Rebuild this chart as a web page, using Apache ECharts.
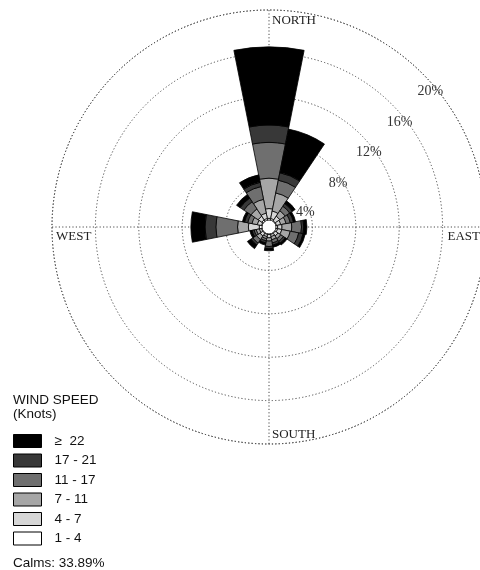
<!DOCTYPE html>
<html>
<head>
<meta charset="utf-8">
<title>Wind Rose</title>
<script src="https://cdn.jsdelivr.net/npm/echarts@6/dist/echarts.min.js"></script>
<style>
  html, body { margin: 0; padding: 0; background: #ffffff; }
  #chart { width: 480px; height: 570px; }
</style>
</head>
<body>
<div id="chart"></div>
<script>
// Sixteen compass directions, clockwise from north
const directions = ['N', 'NNE', 'NE', 'ENE', 'E', 'ESE', 'SE', 'SSE',
                    'S', 'SSW', 'SW', 'WSW', 'W', 'WNW', 'NW', 'NNW'];

// Frequency (%) per direction for each wind-speed class (knots)
const speed1to4   = [0.8, 0.8, 0.7, 0.7, 0.8, 0.8, 0.7, 0.7, 0.7, 0.7, 0.7, 0.7, 0.9, 0.7, 0.8, 0.8];
const speed4to7   = [0.9, 0.7, 0.5, 0.4, 0.4, 0.4, 0.3, 0.2, 0.3, 0.2, 0.3, 0.2, 1.0, 0.4, 0.4, 0.5];
const speed7to11  = [2.8, 1.7, 0.6, 0.5, 0.9, 0.8, 0.3, 0.3, 0.3, 0.2, 0.4, 0.3, 1.0, 0.5, 0.8, 1.3];
const speed11to17 = [3.3, 1.2, 0.5, 0.4, 0.9, 0.8, 0.3, 0.3, 0.5, 0.2, 0.4, 0.2, 2.0, 0.4, 0.8, 1.2];
const speed17to21 = [1.6, 0.7, 0.3, 0.3, 0.2, 0.4, 0.2, 0.2, 0.2, 0.2, 0.2, 0.2, 1.0, 0.3, 0.4, 0.4];
const speed22up   = [7.2, 4.1, 0.3, 0.2, 0.3, 0.2, 0.2, 0.2, 0.2, 0.2, 0.4, 0.2, 1.3, 0.2, 0.4, 0.7];

// Ring values and compass labels
const ringTicks = [4, 8, 12, 16, 20];
const ringLabels = ['4%', '8%', '12%', '16%', '20%'];
const compassLabels = ['NORTH', 'EAST', 'SOUTH', 'WEST'];
const calmsText = 'Calms: 33.89%';

const classes = [
  { name: '1 - 4',   data: speed1to4,   color: '#ffffff' },
  { name: '4 - 7',   data: speed4to7,   color: '#d6d6d6' },
  { name: '7 - 11',  data: speed7to11,  color: '#a6a6a6' },
  { name: '11 - 17', data: speed11to17, color: '#6f6f6f' },
  { name: '17 - 21', data: speed17to21, color: '#383838' },
  { name: '\u2265  22', data: speed22up, color: '#000000' }
];

const cx = 269, cy = 227, R = 217, rMax = 20;
const serif = '"Liberation Serif", "DejaVu Serif", serif';
const sans = '"Liberation Sans", Arial, sans-serif';
const dotStyle = { color: '#4a4a4a', width: 1, type: [1.2, 2.2] };

const chart = echarts.init(document.getElementById('chart'), null, { renderer: 'canvas' });

// ring labels sit beside the north-east radial, just inside each ring
const ringText = ringTicks.map((v, i) => {
  const along = v / rMax * R - 7;
  const perp = i === 0 ? 15 : 18;
  const c = Math.SQRT1_2;
  return {
    type: 'text',
    x: cx + (along + perp) * c,
    y: cy - (along - perp) * c,
    style: {
      text: ringLabels[i], fill: '#333', font: '14px ' + serif,
      align: 'center', verticalAlign: 'middle'
    },
    z: 10
  };
});

const compassText = [
  { text: compassLabels[0], x: cx + 3, y: cy - R + 11, align: 'left' },
  { text: compassLabels[1], x: cx + R - 6, y: cy + 10, align: 'right' },
  { text: compassLabels[2], x: cx + 3, y: cy + R - 9, align: 'left' },
  { text: compassLabels[3], x: cx - R + 4, y: cy + 10, align: 'left' }
].map(t => ({
  type: 'text', x: t.x, y: t.y, z: 10,
  style: { text: t.text, fill: '#222', font: '13px ' + serif, align: t.align, verticalAlign: 'middle' }
}));

const option = {
  backgroundColor: '#ffffff',
  animation: false,
  title: {
    text: 'WIND SPEED\n(Knots)',
    left: 13, top: 393, padding: 0,
    textStyle: { fontFamily: sans, fontSize: 13.5, fontWeight: 'normal', color: '#111', lineHeight: 14 }
  },
  legend: {
    orient: 'vertical',
    left: 13, top: 434, padding: 0,
    itemWidth: 28, itemHeight: 13, itemGap: 5.5,
    icon: 'rect',
    data: classes.map(c => c.name).reverse(),
    itemStyle: { borderColor: '#000', borderWidth: 1 },
    textStyle: { fontFamily: sans, fontSize: 13.5, lineHeight: 13, color: '#111', padding: [0, 0, 0, 8] },
    selectedMode: false
  },
  polar: [
    { center: [cx, cy], radius: [0, R] },
    { center: [cx, cy], radius: [0, R] }
  ],
  angleAxis: [
    {
      polarIndex: 0, type: 'category', data: directions,
      startAngle: 90 + 11.25, clockwise: true, boundaryGap: true,
      axisLine: { show: false }, axisTick: { show: false },
      axisLabel: { show: false }, splitLine: { show: false }, z: 5
    },
    {
      polarIndex: 1, type: 'value', min: 0, max: 360, interval: 90,
      startAngle: 90, clockwise: true,
      axisLine: { show: true, lineStyle: dotStyle },
      axisTick: { show: false }, axisLabel: { show: false },
      splitLine: { show: true, lineStyle: dotStyle }, z: 1
    }
  ],
  radiusAxis: [
    {
      polarIndex: 0, type: 'value', min: 0, max: rMax, interval: 4,
      axisLine: { show: false }, axisTick: { show: false },
      axisLabel: { show: false }, splitLine: { show: false }
    },
    {
      polarIndex: 1, type: 'value', min: 0, max: rMax, interval: 4,
      axisLine: { show: false }, axisTick: { show: false },
      axisLabel: { show: false },
      splitLine: { show: true, lineStyle: dotStyle }, z: 1
    }
  ],
  series: classes.map(c => ({
    name: c.name,
    type: 'bar',
    coordinateSystem: 'polar',
    polarIndex: 0,
    stack: 'wind',
    data: c.data,
    barCategoryGap: '0%',
    itemStyle: { color: c.color, borderColor: '#000', borderWidth: 0.8 },
    z: 5
  })),
  graphic: [
    ...ringText,
    ...compassText,
    {
      type: 'circle', shape: { cx: cx, cy: cy, r: 7 }, z: 20,
      style: { fill: '#ffffff', stroke: '#222', lineWidth: 1 }
    },
    {
      type: 'text', x: 13, y: 563, z: 10,
      style: { text: calmsText, fill: '#111', font: '13.5px ' + sans, verticalAlign: 'middle' }
    }
  ]
};

chart.setOption(option);
</script>
</body>
</html>
